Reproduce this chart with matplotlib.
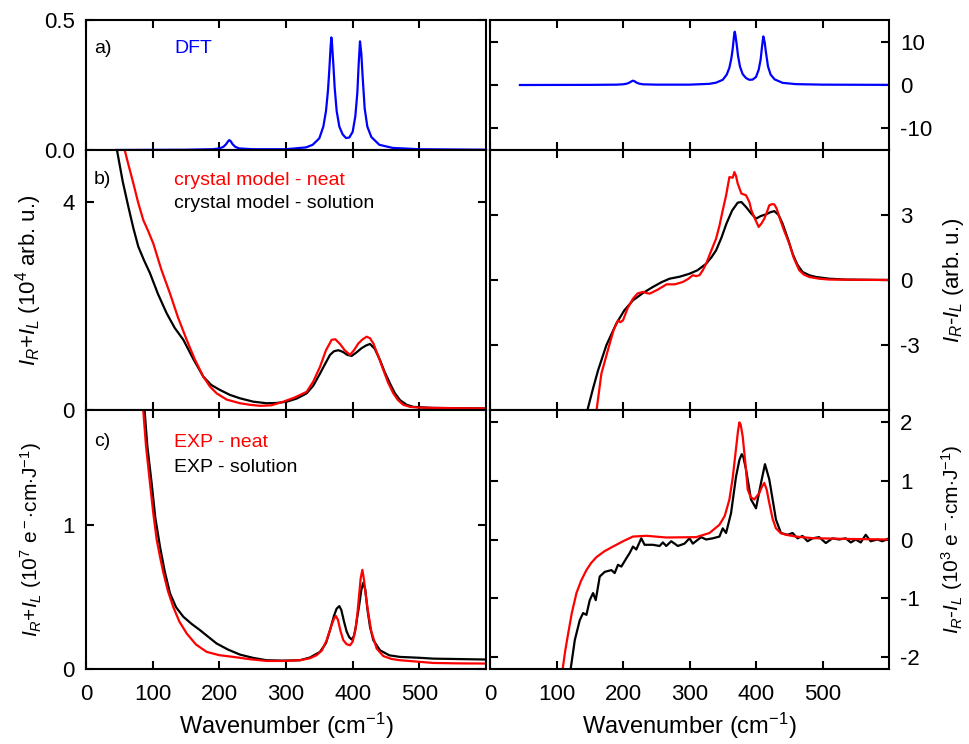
import matplotlib
matplotlib.use('Agg')
import matplotlib.pyplot as plt

plt.rcParams['font.family'] = ['Liberation Sans', 'DejaVu Sans']
plt.rcParams['mathtext.fontset'] = 'custom'
plt.rcParams['mathtext.rm'] = 'Liberation Sans'
plt.rcParams['mathtext.it'] = 'Liberation Sans:italic'
plt.rcParams['mathtext.default'] = 'rm'
plt.rcParams['axes.unicode_minus'] = False

# --- a) DFT ---
dft_x = [45, 150, 190, 200, 206, 210, 213, 215, 217, 220, 224, 230, 250, 300, 330, 340, 350, 356, 360, 363,
         365, 367, 368, 369, 371, 373, 376, 380, 385, 390, 395, 400, 404, 407, 409, 411, 413, 415, 418, 422,
         428, 440, 460, 500, 600]
dft_sum = [0.0, 0.001, 0.003, 0.006, 0.012, 0.022, 0.033, 0.038, 0.034, 0.022, 0.012, 0.006, 0.003, 0.003, 0.01,
           0.02, 0.045, 0.09, 0.15, 0.23, 0.31, 0.40, 0.433, 0.41, 0.33, 0.24, 0.15, 0.09, 0.06, 0.046,
           0.048, 0.07, 0.13, 0.22, 0.33, 0.418, 0.37, 0.28, 0.16, 0.09, 0.05, 0.02, 0.008, 0.003, 0.001]
dft_dif = [0.0, 0.03, 0.08, 0.16, 0.32, 0.58, 0.86, 1.0, 0.9, 0.58, 0.32, 0.16, 0.08, 0.08, 0.27, 0.54, 1.2,
           2.4, 4.0, 6.2, 8.4, 11.4, 12.3, 11.6, 9.3, 6.7, 4.2, 2.5, 1.6, 1.2, 1.25, 1.85, 3.5, 5.9, 8.8,
           11.2, 9.9, 7.5, 4.3, 2.4, 1.3, 0.5, 0.2, 0.08, 0.03]

# --- b) crystal model ---
cm_sol_x = [45, 55, 63.5, 71, 78.5, 87, 96, 108, 121, 133, 146, 161, 176, 188, 201, 216, 231, 251, 271, 286,
            301, 316, 331, 341, 351, 358, 366, 372, 378.5, 385, 392, 398.5, 405, 413.5, 420, 426, 433, 441,
            448, 456, 463, 471, 481, 491, 520, 560, 598]
cm_sol_y = [5.1, 4.4, 3.91, 3.5, 3.14, 2.88, 2.63, 2.23, 1.86, 1.58, 1.35, 0.98, 0.64, 0.48, 0.385, 0.29, 0.225,
            0.16, 0.13, 0.135, 0.16, 0.22, 0.32, 0.47, 0.70, 0.87, 1.06, 1.13, 1.15, 1.12, 1.06, 1.04, 1.10,
            1.19, 1.24, 1.27, 1.18, 0.96, 0.73, 0.51, 0.33, 0.19, 0.1, 0.06, 0.04, 0.035, 0.03]
cm_neat_x = [56, 64, 71, 78, 86, 93, 101, 113, 126, 138, 151, 163, 176, 186, 196, 211, 231, 246, 261, 278,
             296, 313, 331, 341, 351, 360, 368.5, 374, 381, 388, 396, 402, 408.5, 415, 421, 426, 431, 438,
             446, 453, 461, 468, 476, 486, 501, 550, 598]
cm_neat_y = [5.1, 4.7, 4.36, 4.0, 3.65, 3.45, 3.2, 2.7, 2.24, 1.78, 1.35, 0.98, 0.64, 0.45, 0.32, 0.2, 0.13,
             0.1, 0.08, 0.09, 0.16, 0.24, 0.35, 0.55, 0.83, 1.15, 1.35, 1.36, 1.27, 1.15, 1.06, 1.15, 1.28,
             1.36, 1.41, 1.38, 1.28, 1.05, 0.77, 0.53, 0.32, 0.19, 0.1, 0.06, 0.045, 0.035, 0.03]
cm_sol_dif_x = [144, 155, 162.5, 175, 190, 202, 215, 230, 245, 258, 270, 285, 300, 312, 325, 333, 340, 348,
                355.5, 364, 372.5, 378, 385, 392, 400, 407, 415, 421, 427.5, 434, 440, 448, 455, 462, 470,
                480, 490, 510, 535, 598]
cm_sol_dif_y = [-6.3, -5.0, -4.17, -3.01, -2.01, -1.4, -0.94, -0.6, -0.32, -0.1, 0.06, 0.15, 0.29, 0.45, 0.75,
                1.05, 1.37, 1.95, 2.6, 3.2, 3.57, 3.6, 3.37, 3.1, 2.83, 2.95, 3.03, 3.12, 3.18, 3.0, 2.6, 1.9,
                1.22, 0.72, 0.37, 0.22, 0.14, 0.06, 0.02, 0.0]
cm_neat_dif_x = [159, 167.5, 174, 180, 186, 192.5, 196, 200, 207, 215, 222, 230, 235, 240, 252, 265.5, 278,
                 290, 298, 305, 310, 315, 320, 325, 332, 340, 345, 350, 355, 360, 365, 367.5, 370, 372.5, 378,
                 385, 390, 393, 398, 404, 408, 412.5, 416, 420, 424, 427.5, 431, 435, 442, 450, 457, 465,
                 472, 480, 495, 510, 598]
cm_neat_dif_y = [-6.3, -4.32, -3.6, -2.94, -2.3, -1.86, -1.95, -1.86, -1.3, -0.86, -0.62, -0.55, -0.6, -0.63,
                 -0.45, -0.2, -0.2, -0.09, 0.05, 0.22, 0.18, 0.22, 0.45, 0.75, 1.3, 1.91, 2.5, 3.22, 3.9,
                 4.75, 4.72, 4.98, 4.8, 4.45, 3.99, 3.91, 3.6, 3.22, 2.85, 2.45, 2.6, 2.83, 3.1, 3.45, 3.5,
                 3.49, 3.3, 2.91, 2.3, 1.68, 1.0, 0.45, 0.25, 0.14, 0.06, 0.02, 0.0]

# --- c) experiment ---
exp_neat_x = [85, 90, 96, 101, 106, 111, 116, 123, 131, 140, 151, 165, 181, 200, 221, 246, 271, 296, 321, 336,
              346, 354, 361, 368, 372, 375, 378, 382, 386, 391, 396, 400, 404, 407, 410, 412, 414.5, 417, 420,
              423.5, 428, 436, 446, 458, 471, 500, 521, 560, 598]
exp_neat_y = [1.85, 1.55, 1.29, 1.08, 0.90, 0.78, 0.67, 0.54, 0.43, 0.33, 0.247, 0.17, 0.119, 0.096, 0.084,
              0.068, 0.056, 0.056, 0.061, 0.075, 0.096, 0.13, 0.2, 0.3, 0.35, 0.368, 0.34, 0.26, 0.2, 0.172,
              0.165, 0.19, 0.27, 0.38, 0.53, 0.63, 0.689, 0.62, 0.5, 0.386, 0.26, 0.142, 0.09, 0.07, 0.061,
              0.05, 0.042, 0.039, 0.038]
exp_sol_x = [87, 92, 98.5, 104, 111, 118, 126, 135, 146, 158, 171, 183, 196, 213, 231, 251, 271, 296, 321, 336,
             351, 360, 366, 372, 376, 380, 383, 387, 391, 395, 398.5, 402, 405, 407, 410, 413, 416, 419, 422,
             426, 431, 441, 455, 471, 500, 521, 560, 598]
exp_sol_y = [1.85, 1.55, 1.29, 1.05, 0.85, 0.68, 0.526, 0.43, 0.363, 0.315, 0.27, 0.225, 0.177, 0.135, 0.1,
             0.077, 0.061, 0.058, 0.061, 0.08, 0.119, 0.18, 0.27, 0.37, 0.42, 0.437, 0.41, 0.33, 0.26, 0.22,
             0.205, 0.23, 0.3, 0.363, 0.45, 0.55, 0.6, 0.55, 0.42, 0.293, 0.2, 0.13, 0.095, 0.084, 0.078,
             0.072, 0.069, 0.066]
exp_neat_dif_x = [108, 113, 117.5, 123, 130, 137, 145, 152, 160, 172, 185, 200, 215, 235, 265, 310, 330, 345,
                  353, 360, 365, 370, 373, 375, 377, 380, 384, 387.5, 392, 397.5, 405, 409, 412.5, 416, 420,
                  425, 430, 437, 445, 460, 485, 535, 598]
exp_neat_dif_y = [-2.3, -1.9, -1.6, -1.25, -0.91, -0.7, -0.52, -0.4, -0.3, -0.2, -0.12, -0.03, 0.05, 0.063,
                  0.034, 0.04, 0.11, 0.25, 0.4, 0.68, 1.05, 1.55, 1.85, 1.99, 1.95, 1.75, 1.3, 0.85, 0.72,
                  0.68, 0.79, 0.9, 0.96, 0.85, 0.62, 0.35, 0.19, 0.11, 0.08, 0.05, 0.023, 0.01, 0.0]
exp_sol_dif_x = [120, 127.5, 135, 140, 145, 150, 155, 159, 165, 172.5, 182.5, 187.5, 192.5, 197.5, 205, 210,
                 215, 220, 227.5, 232.5, 245, 255, 260, 265, 272.5, 282.5, 292.5, 300, 305, 317.5, 325, 335,
                 345, 350, 355, 362.5, 370, 375, 378.5, 381, 385, 392.5, 400, 407.5, 413.5, 420, 430, 437.5,
                 447.5, 455, 462.5, 470, 477.5, 485, 495, 505, 515, 525, 535, 542.5, 550, 557.5, 565, 572.5,
                 582.5, 590, 598]
exp_sol_dif_y = [-2.3, -1.71, -1.37, -1.25, -1.28, -1.03, -0.91, -1.03, -0.63, -0.55, -0.52, -0.57, -0.43,
                 -0.46, -0.32, -0.23, -0.12, -0.17, 0.02, -0.09, -0.09, -0.11, -0.05, -0.11, -0.03, -0.11,
                 -0.07, 0.02, -0.07, 0.04, 0.0, 0.02, 0.05, 0.19, 0.11, 0.45, 1.07, 1.35, 1.45, 1.4, 1.19,
                 0.68, 0.53, 0.96, 1.28, 1.02, 0.34, 0.11, 0.08, 0.11, 0.02, 0.06, -0.03, 0.02, 0.04, -0.06,
                 0.02, 0.0, 0.02, -0.05, 0.0, -0.05, 0.08, -0.03, 0.0, -0.03, 0.01]

RED = '#ff0000'
BLUE = '#0000ff'
LW = 1.6
IR = r'$\mathit{I}_{\mathit{R}}$'
IL = r'$\mathit{I}_{\mathit{L}}$'
EXP_UNIT = ' (10$^{%d}$ e$^-$$\\cdot$cm$\\cdot$J$^{-1}$)'

W, H = 969, 744
fig = plt.figure(figsize=(W / 100, H / 100), dpi=100)


def make_ax(x0, x1, y0, y1):
    # pixel box -> figure fraction
    return fig.add_axes([x0 / W, 1 - y1 / H, (x1 - x0) / W, (y1 - y0) / H])


rows = [(20, 150), (150, 410), (410, 669)]
cols = [(86, 486), (490, 889)]
axes = [[make_ax(c[0], c[1], r[0], r[1]) for c in cols] for r in rows]

for i, row in enumerate(axes):
    for j, ax in enumerate(row):
        ax.set_xlim(0, 600)
        ax.set_xticks(range(0, 600, 100))
        for s in ax.spines.values():
            s.set_linewidth(1.5)
        ax.tick_params(direction='in', top=True, right=True, left=True, bottom=True,
                       length=6, width=1.5, labelsize=16, pad=8)
        ax.tick_params(axis='x', pad=11)
        if i < 2:
            ax.tick_params(labelbottom=False)
        else:
            ax.set_xlabel('Wavenumber (cm$^{-1}$)', fontsize=17, labelpad=4)
        if j == 1:
            ax.tick_params(labelleft=False, labelright=True)

# a)
ax = axes[0][0]
ax.plot(dft_x, dft_sum, color=BLUE, lw=LW, zorder=3, clip_on=False)
ax.set_ylim(0, 0.5)
ax.set_yticks([0, 0.5])
ax.set_yticklabels(['0.0', '0.5'])
ax.text(0.02, 0.78, 'a)', transform=ax.transAxes, fontsize=14, va='center')
ax.text(0.22, 0.78, 'DFT', transform=ax.transAxes, fontsize=14, va='center', color=BLUE)

ax = axes[0][1]
ax.plot(dft_x, dft_dif, color=BLUE, lw=LW)
ax.set_ylim(-15, 15)
ax.set_yticks([-10, 0, 10])

# b)
ax = axes[1][0]
ax.plot(cm_sol_x, cm_sol_y, color='black', lw=LW)
ax.plot(cm_neat_x, cm_neat_y, color=RED, lw=LW)
ax.set_ylim(0, 5)
ax.set_yticks([0, 4])
ax.set_ylabel(IR + '+' + IL + ' (10$^4$ arb. u.)', fontsize=16)
ax.yaxis.set_label_coords(-0.105, 0.5)
ax.text(0.02, 0.885, 'b)', transform=ax.transAxes, fontsize=14, va='center')
ax.text(0.22, 0.882, 'crystal model - neat', transform=ax.transAxes, fontsize=14, va='center', color=RED)
ax.text(0.22, 0.794, 'crystal model - solution', transform=ax.transAxes, fontsize=14, va='center')

ax = axes[1][1]
ax.plot(cm_sol_dif_x, cm_sol_dif_y, color='black', lw=LW)
ax.plot(cm_neat_dif_x, cm_neat_dif_y, color=RED, lw=LW)
ax.set_ylim(-6, 6)
ax.set_yticks([-3, 0, 3])
ax.yaxis.set_label_position('right')
ax.set_ylabel(IR + '-' + IL + ' (arb. u.)', fontsize=16)
ax.yaxis.set_label_coords(1.13, 0.5)

# c)
ax = axes[2][0]
ax.plot(exp_sol_x, exp_sol_y, color='black', lw=LW)
ax.plot(exp_neat_x, exp_neat_y, color=RED, lw=LW)
ax.set_ylim(0, 1.8)
ax.set_yticks([0, 1])
ax.set_ylabel(IR + '+' + IL + EXP_UNIT % 7, fontsize=15)
ax.yaxis.set_label_coords(-0.105, 0.5)
ax.text(0.02, 0.88, 'c)', transform=ax.transAxes, fontsize=14, va='center')
ax.text(0.22, 0.876, 'EXP - neat', transform=ax.transAxes, fontsize=14, va='center', color=RED)
ax.text(0.22, 0.778, 'EXP - solution', transform=ax.transAxes, fontsize=14, va='center')

ax = axes[2][1]
ax.plot(exp_sol_dif_x, exp_sol_dif_y, color='black', lw=LW)
ax.plot(exp_neat_dif_x, exp_neat_dif_y, color=RED, lw=LW)
ax.set_ylim(-2.2, 2.2)
ax.set_yticks([-2, -1, 0, 1, 2])
ax.yaxis.set_label_position('right')
ax.set_ylabel(IR + '-' + IL + EXP_UNIT % 3, fontsize=15)
ax.yaxis.set_label_coords(1.125, 0.5)

fig.savefig('out.png', dpi=100)
